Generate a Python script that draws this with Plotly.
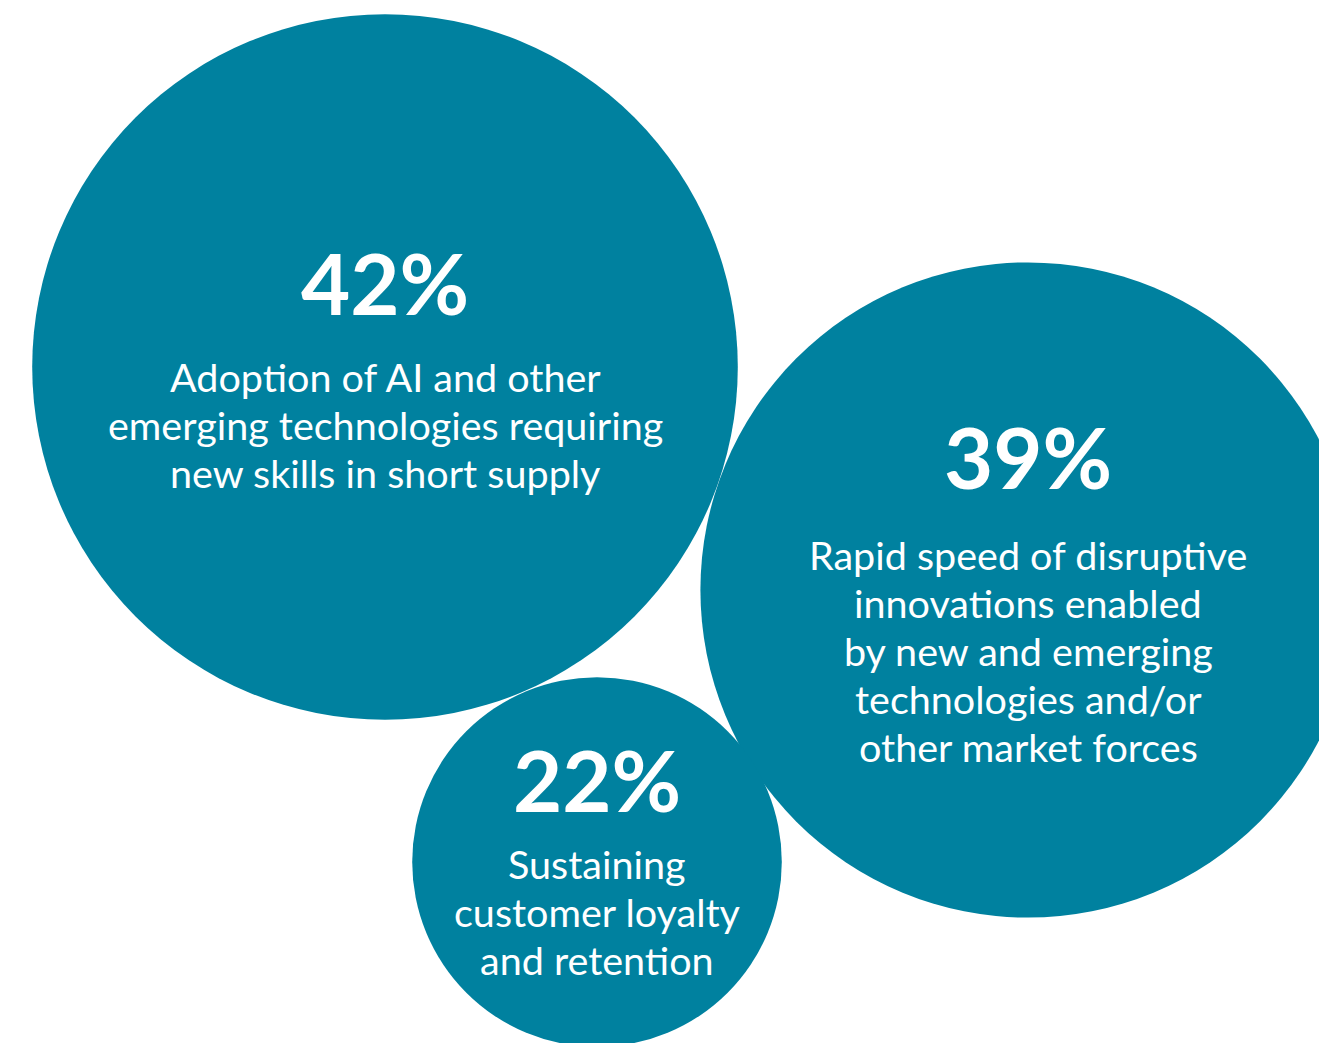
import plotly.graph_objects as go

# data
values = [42, 39, 22]
labels = [
    ["Adoption of AI and other", "emerging technologies requiring", "new skills in short supply"],
    ["Rapid speed of disruptive", "innovations enabled", "by new and emerging",
     "technologies and/or", "other market forces"],
    ["Sustaining", "customer loyalty", "and retention"],
]

# layout of the bubbles (page pixels, y down)
centers = [(385, 367), (1028, 590), (597, 862)]
pct_dy = [-85, -134, -83]     # percent label offset from centre
text_dy = [9, -36, 1]         # first text line offset from centre
line_gap = 48
px_per_pct = 8.4              # bubble radius per percentage point
colour = "#00819F"

W, H = 1327, 1043
OFF = 8  # the page body has an 8px margin

fig = go.Figure()
fig.add_trace(go.Scatter(x=[OFF, W], y=[OFF, H], mode="markers",
                         marker=dict(opacity=0), hoverinfo="skip", showlegend=False))

for i, v in enumerate(values):
    cx, cy = centers[i]
    r = v * px_per_pct
    fig.add_shape(type="circle", xref="x", yref="y",
                  x0=cx - r, x1=cx + r, y0=cy - r, y1=cy + r,
                  fillcolor=colour, line=dict(width=0), layer="below")
    fig.add_annotation(x=cx, y=cy + pct_dy[i], text="%d%%" % v, showarrow=False,
                       xref="x", yref="y", yanchor="middle",
                       font=dict(family="Lato", size=85, color="white", weight="bold"))
    for j, line in enumerate(labels[i]):
        fig.add_annotation(x=cx, y=cy + text_dy[i] + j * line_gap, text=line,
                           showarrow=False, xref="x", yref="y", yanchor="middle",
                           font=dict(family="Lato", size=39.5, color="white"))

fig.update_xaxes(range=[OFF, W], visible=False, fixedrange=True)
fig.update_yaxes(range=[H, OFF], visible=False, fixedrange=True)
fig.update_layout(width=W - OFF, height=H - OFF, margin=dict(l=0, r=0, t=0, b=0),
                  paper_bgcolor="white", plot_bgcolor="white", showlegend=False)

fig.write_html("out.html")
